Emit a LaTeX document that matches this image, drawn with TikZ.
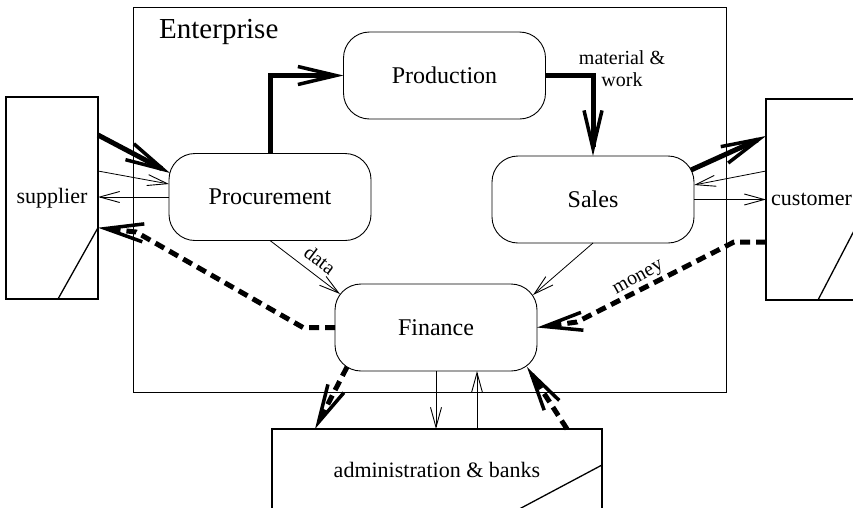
\documentclass[tikz,border=0pt]{standalone}
\usepackage{fontspec}
\setmainfont{Liberation Serif}
\usetikzlibrary{arrows.meta}
\begin{document}
\begin{tikzpicture}[x=1pt,y=-1pt,
  unit/.style={draw, line width=0.9pt, rounded corners=26pt, minimum width=202pt,
    minimum height=87pt, inner sep=0pt, outer sep=0pt, font=\fontsize{24}{28}\selectfont},
  party/.style={draw, line width=1.3pt, inner sep=0pt, outer sep=0pt,
    font=\fontsize{22}{26}\selectfont},
  frame/.style={draw, line width=0.9pt, inner sep=0pt, outer sep=0pt},
  flow/.style={line width=0.8pt, -{Straight Barb[length=20pt,width=11pt,line width=0.9pt]}},
  goods/.style={line width=5pt, line join=miter,
    -{Straight Barb[length=38pt,width=18pt,line width=3.5pt]}},
  cash/.style={goods, dash pattern=on 10pt off 6pt},
  tag/.style={font=\fontsize{20}{22}\selectfont, inner sep=0pt},
]
\useasboundingbox (0,0) rectangle (853,507);
\clip (0,0) rectangle (853,507);

% enterprise frame and its title
\node[frame, minimum width=593pt, minimum height=385pt] (ent) at (429.5,199.5) {};
\node[font=\fontsize{29}{33}\selectfont, anchor=base west, inner sep=0pt] (title) at (159,38) {Enterprise};

% departments
\node[unit] (proc)  at (270,197)   {Procurement};
\node[unit] (prod)  at (444.5,75.5) {Production};
\node[unit] (sales) at (593,199.5) {Sales};
\node[unit] (fin)   at (436,327.5) {Finance};

% outside parties
\node[party, minimum width=92pt, minimum height=202pt] (sup) at (52,198) {supplier};
\node[party, minimum width=91pt, minimum height=201pt] (cust) at (811.5,199.5) {customer};
\node[party, minimum width=330pt, minimum height=82pt] (adm) at (437,470) {administration \& banks};

% corner marks of the outside parties
\draw[line width=1.3pt] ([xshift=6pt]sup.south) -- ([yshift=-29.7pt]sup.east);
\draw[line width=1.3pt] ([xshift=6.5pt]cust.south) -- ([yshift=-25.5pt]cust.east);
\draw[line width=1.3pt] ([yshift=5pt]adm.east) -- ([xshift=78.5pt]adm.south);

% bend points of the money flows
\coordinate (bendS) at (136,232);
\coordinate (bendC) at (577,322);
\coordinate (upA) at ([xshift=40pt]adm.north);

% supplier <-> procurement
\draw[goods] ([yshift=63pt]sup.east) -- ([shift={(1pt,24pt)}]proc.west);
\draw[flow] ([yshift=27pt]sup.east) -- ([yshift=13pt]proc.west);
\draw[flow] (proc.west) -- (proc.west -| sup.east);

% material flow through production
\draw[goods] (proc.north) |- (prod.west);
\draw[goods] (prod.east) -| (sales.north);
\node[tag, align=center] (mw) at (622,69) {material \&\\work};

% sales <-> customer
\draw[goods] ([shift={(-3pt,-14pt)}]sales.north east) -- ([yshift=63.5pt]cust.west);
\draw[flow] ([yshift=28.5pt]cust.west) -- ([yshift=14.5pt]sales.east);
\draw[flow] (sales.east) -- (sales.east -| cust.west);

% data to finance
\draw[flow] (proc.south) -- ([shift={(5pt,-10pt)}]fin.north west);
\node[tag, rotate=-37] (data) at (320,260) {data};
\draw[flow] (sales.south) -- ([shift={(-4pt,-11pt)}]fin.north east);

% money flows
\draw[cash] ([yshift=-42.5pt]cust.west) -- ++(-32,0) -- (bendC) -- (fin.east);
\node[tag, rotate=29] (money) at (639,279) {money};
\draw[cash] (fin.west) -- ++(-32,0) -- (bendS) -- ([yshift=-29.7pt]sup.east);

% finance <-> administration & banks
\draw[cash] ([shift={(12pt,4pt)}]fin.south west) -- ([xshift=43pt]adm.north west);
\draw[flow] (fin.south) -- (fin.south |- adm.north);
\draw[flow] (upA) -- (upA |- fin.south);
\draw[cash] ([xshift=-35pt]adm.north east) -- ([shift={(-10pt,4pt)}]fin.south east);
\end{tikzpicture}
\end{document}
